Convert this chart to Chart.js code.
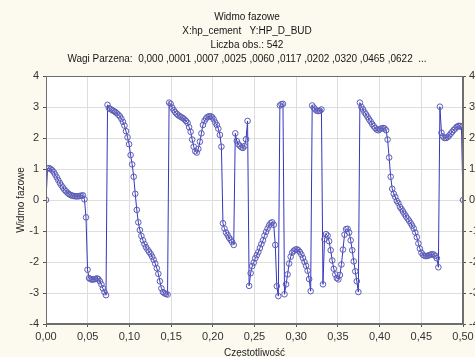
<!DOCTYPE html>
<html>
<head>
<meta charset="utf-8">
<script src="https://cdn.jsdelivr.net/npm/chart.js@4"></script>
<style>
  html, body { margin: 0; padding: 0; overflow: hidden; background: #fcfaef; }
  #wrap { width: 494px; height: 357px; }
</style>
</head>
<body>
<div id="wrap"><canvas id="phaseChart" width="494" height="357"></canvas></div>
<script>
// phase spectrum values, one per Fourier frequency k/542 (k = 0..271)
let phase = [
  0.00, 1.02, 1.03, 1.00, 0.96, 0.90, 0.82, 0.73, 0.64, 0.55,
  0.47, 0.40, 0.33, 0.28, 0.23, 0.19, 0.16, 0.14, 0.13, 0.12,
  0.12, 0.12, 0.13, 0.14, 0.15, 0.02, -0.56, -2.25, -2.52, -2.55,
  -2.57, -2.56, -2.55, -2.53, -2.55, -2.62, -2.72, -2.85, -2.97, -3.07,
  3.07, 2.96, 2.93, 2.90, 2.87, 2.84, 2.80, 2.75, 2.70, 2.62,
  2.52, 2.40, 2.22, 2.02, 1.80, 1.45, 1.15, 0.75, 0.20, -0.32,
  -0.72, -0.97, -1.16, -1.30, -1.42, -1.52, -1.60, -1.67, -1.74, -1.83,
  -1.93, -2.05, -2.20, -2.38, -2.62, -2.85, -2.97, -3.01, -3.03, -3.05,
  3.14, 3.10, 2.98, 2.90, 2.83, 2.78, 2.73, 2.70, 2.67, 2.64,
  2.60, 2.55, 2.49, 2.35, 2.20, 1.95, 1.72, 1.57, 1.53, 1.65,
  1.88, 2.15, 2.42, 2.55, 2.63, 2.68, 2.70, 2.70, 2.67, 2.60,
  2.50, 2.42, 2.30, 2.10, 1.72, -0.75, -0.92, -1.05, -1.13, -1.22,
  -1.29, -1.36, -1.45, 2.15, 1.90, 1.80, 1.75, 1.70, 1.68, 1.74,
  1.96, 2.55, -2.77, -2.36, -2.13, -2.02, -1.88, -1.78, -1.68, -1.55,
  -1.42, -1.30, -1.15, -1.03, -0.92, -0.82, -0.75, -0.72, -0.80, -1.45,
  -2.78, -3.10, 3.05, 3.09, 3.10, -3.04, -2.72, -2.40, -2.05, -1.83,
  -1.70, -1.64, -1.60, -1.59, -1.62, -1.68, -1.76, -1.87, -2.00, -2.12,
  -2.28, -2.55, -2.94, 3.05, 2.98, 2.92, 2.88, 2.87, 2.88, 2.92,
  -2.72, -1.27, -1.10, -1.15, -1.33, -1.62, -1.95, -2.22, -2.40, -2.52,
  -2.56, -2.42, -2.08, -1.60, -1.12, -0.94, -0.93, -1.05, -1.30, -1.62,
  -1.98, -2.30, -2.62, -2.97, 3.14, 3.00, 2.92, 2.83, 2.76, 2.68,
  2.60, 2.53, 2.45, 2.38, 2.32, 2.27, 2.25, 2.28, 2.31, 2.32,
  2.31, 2.25, 1.95, 1.37, 0.75, 0.36, 0.20, 0.10, -0.03, -0.10,
  -0.22, -0.29, -0.37, -0.45, -0.53, -0.60, -0.67, -0.75, -0.83, -0.92,
  -1.05, -1.20, -1.40, -1.57, -1.70, -1.77, -1.80, -1.81, -1.80, -1.78,
  -1.76, -1.75, -1.76, -1.80, -1.88, -2.17, 3.01, 2.17, 2.05, 2.00,
  2.00, 2.03, 2.08, 2.14, 2.20, 2.26, 2.31, 2.36, 2.39, 2.39,
  2.35, 0.00
];
let nObs = 542;
let freq = phase.map((v, k) => k / nObs);

let titleLines = [
  'Widmo fazowe',
  'X:hp_cement   Y:HP_D_BUD',
  'Liczba obs.: 542',
  'Wagi Parzena:  0,000 ,0001 ,0007 ,0025 ,0060 ,0117 ,0202 ,0320 ,0465 ,0622  ...'
];

const fontFam = '"Liberation Sans", Arial, sans-serif';
const comma = (v, d) => v.toFixed(d).replace('.', ',');

// cream page, white plot, dark frame
const frame = {
  id: 'frame',
  beforeDraw(chart) {
    const { ctx, chartArea: a } = chart;
    ctx.save();
    ctx.fillStyle = '#fcfaef';
    ctx.fillRect(0, 0, chart.width, chart.height);
    ctx.fillStyle = '#ffffff';
    ctx.fillRect(a.left, a.top, a.right - a.left, a.bottom - a.top);
    ctx.restore();
  },
  afterDraw(chart) {
    const { ctx, chartArea: a } = chart;
    ctx.save();
    ctx.strokeStyle = '#6e6e6e';
    ctx.lineWidth = 1;
    ctx.strokeRect(a.left + 0.5, a.top + 0.5, a.right - a.left - 1, a.bottom - a.top - 1);
    ctx.restore();
  }
};

const ctx = document.getElementById('phaseChart').getContext('2d');
const phaseChart = new Chart(ctx, {
  type: 'line',
  data: {
    datasets: [{
      data: freq.map((f, k) => ({ x: f, y: phase[k] })),
      borderColor: '#3636c2',
      borderWidth: 1,
      pointRadius: 2.8,
      pointBorderWidth: 1,
      pointBorderColor: '#5c5cb8',
      pointBackgroundColor: 'rgba(0,0,0,0)',
      tension: 0
    }]
  },
  options: {
    responsive: false,
    animation: false,
    layout: { padding: 0 },
    plugins: {
      legend: { display: false },
      tooltip: { enabled: false },
      title: {
        display: true,
        text: titleLines,
        color: '#151515',
        font: { family: fontFam, size: 10, weight: 'normal', lineHeight: 1.4 },
        padding: { top: 10, bottom: 10 }
      }
    },
    scales: {
      x: {
        type: 'linear',
        min: 0,
        max: 0.5,
        ticks: {
          stepSize: 0.05,
          color: '#333',
          font: { family: fontFam, size: 11 },
          padding: 3,
          maxRotation: 0,
          callback: v => comma(v, 2)
        },
        grid: { color: '#dedede', tickColor: '#555', tickLength: 3 },
        border: { color: '#6e6e6e' },
        title: {
          display: true,
          text: 'Częstotliwość',
          color: '#222',
          font: { family: fontFam, size: 10, lineHeight: 1 },
          padding: { top: 0, bottom: -1 }
        },
        afterFit: s => { s.height = 33; }
      },
      y: {
        position: 'left',
        min: -4,
        max: 4,
        ticks: {
          stepSize: 1,
          color: '#333',
          font: { family: fontFam, size: 11 },
          padding: 4
        },
        grid: { color: '#dedede', tickColor: '#555', tickLength: 3 },
        border: { color: '#6e6e6e' },
        title: {
          display: true,
          text: 'Widmo fazowe',
          color: '#222',
          font: { family: fontFam, size: 10, lineHeight: 1 },
          padding: { top: 16, bottom: 0 }
        },
        afterFit: s => { s.width = 46; }
      },
      y2: {
        position: 'right',
        min: -4,
        max: 4,
        ticks: {
          stepSize: 1,
          color: '#333',
          font: { family: fontFam, size: 11 },
          padding: 3
        },
        grid: { drawOnChartArea: false, tickColor: '#555', tickLength: 3 },
        border: { color: '#6e6e6e' },
        afterFit: s => { s.width = 31; }
      }
    }
  },
  plugins: [frame]
});
</script>
</body>
</html>
